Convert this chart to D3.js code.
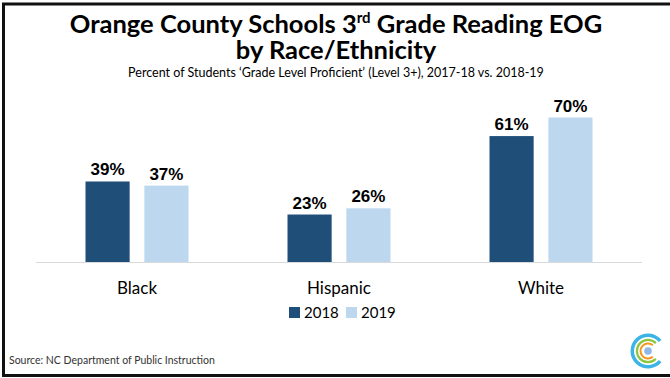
<!DOCTYPE html>
<html><head><meta charset="utf-8">
<script src="https://cdn.jsdelivr.net/npm/d3@7"></script>
<style>html,body{margin:0;padding:0;background:#fff;}svg{display:block;}</style>
</head><body>
<svg id="c" width="670" height="378"></svg>
<script>
const categories = ["Black", "Hispanic", "White"];
const seriesNames = ["2018", "2019"];
const values2018 = [39, 23, 61];
const values2019 = [37, 26, 70];
const colors = ["#1f4e79", "#bdd7ee"];

const svg = d3.select("#c");
const W = 670, H = 378;

// frame
svg.append("path").attr("d", `M${W},4 H3.5 V375.5 H${W}`).attr("fill","none").attr("stroke","#111").attr("stroke-width",3);

// title
const tf = "Lato, 'Open Sans', sans-serif";
const t1 = svg.append("text").attr("x", 336).attr("y", 33).attr("text-anchor","middle")
  .attr("font-family", tf).attr("font-weight","bold").attr("font-size", 25.5).attr("fill","#000");
t1.append("tspan").text("Orange County Schools 3");
t1.append("tspan").text("rd").attr("font-size", 15).attr("dy", -10);
t1.append("tspan").text(" Grade Reading EOG").attr("dy", 10);
svg.append("text").attr("x", 336).attr("y", 59).attr("text-anchor","middle")
  .attr("font-family", tf).attr("font-weight","bold").attr("font-size", 25.5).text("by Race/Ethnicity");
svg.append("text").attr("x", 336).attr("y", 77).attr("text-anchor","middle")
  .attr("font-family", tf).attr("font-size", 12.5).text("Percent of Students \u2018Grade Level Proficient\u2019 (Level 3+), 2017-18 vs. 2018-19");

// scales
const x0 = d3.scaleBand().domain(categories).range([36, 642]);
const groupW = 103;
const x1 = d3.scaleBand().domain(seriesNames).range([0, groupW]).paddingInner(0.25);
const y = d3.scaleLinear().domain([0, 70]).range([262, 117.5]);

const data = categories.map((c,i)=>({cat:c, vals:[values2018[i], values2019[i]]}));

// axis line
svg.append("line").attr("x1", 36).attr("x2", 642).attr("y1", 262.5).attr("y2", 262.5)
  .attr("stroke","#d9d9d9").attr("stroke-width",1);

const g = svg.selectAll("g.grp").data(data).join("g")
  .attr("transform", d => `translate(${x0(d.cat) + (x0.bandwidth()-groupW)/2},0)`);
g.selectAll("rect").data(d => d.vals.map((v,j)=>({v, s:seriesNames[j], j}))).join("rect")
  .attr("x", d => x1(d.s)).attr("width", x1.bandwidth())
  .attr("y", d => y(d.v)).attr("height", d => y(0) - y(d.v))
  .attr("fill", d => colors[d.j]);
g.selectAll("text").data(d => d.vals.map((v,j)=>({v, s:seriesNames[j], j}))).join("text")
  .attr("x", d => x1(d.s) + x1.bandwidth()/2).attr("y", d => y(d.v) - 6)
  .attr("text-anchor","middle").attr("font-family","'Liberation Sans', Arial, sans-serif")
  .attr("font-weight","bold").attr("font-size", 17).attr("fill","#000")
  .text(d => d.v + "%");

// category labels
const xAxis = d3.axisBottom(x0).tickSize(0).tickPadding(0);
const ax = svg.append("g").attr("transform","translate(0,294)").call(xAxis);
ax.select(".domain").remove();
ax.selectAll("text").attr("font-family", tf).attr("font-size", 17).attr("fill","#000").attr("dy", 0);

// legend
const leg = svg.append("g");
const legX = [289, 346];
seriesNames.forEach((s,i)=>{
  leg.append("rect").attr("x", legX[i]).attr("y", 307).attr("width", 11).attr("height", 11).attr("fill", colors[i]);
  leg.append("text").attr("x", legX[i] + 15).attr("y", 318).attr("font-family", tf)
    .attr("font-size", 15).attr("fill","#000").text(s);
});

// source
svg.append("text").attr("x", 9).attr("y", 364).attr("font-family", tf).attr("font-size", 10.5)
  .attr("fill","#333").text("Source: NC Department of Public Instruction");

// logo
const lg = svg.append("g").attr("transform","translate(648,351)");
const arcs = [
  {r0:14, r1:17.5, c:"#3cb4e6", a:0.22},
  {r0:10, r1:12.2, c:"#8cc63f", a:0.25},
  {r0:6.5, r1:8.5, c:"#f7941d", a:0.28}
];
arcs.forEach(a=>{
  lg.append("path").attr("d", d3.arc().innerRadius(a.r0).outerRadius(a.r1)
    .startAngle((0.5 + a.a)*Math.PI).endAngle((2.5 - a.a)*Math.PI)()).attr("fill", a.c);
});
lg.append("circle").attr("r", 3.8).attr("fill","#8fb8e8");
</script>
</body></html>
